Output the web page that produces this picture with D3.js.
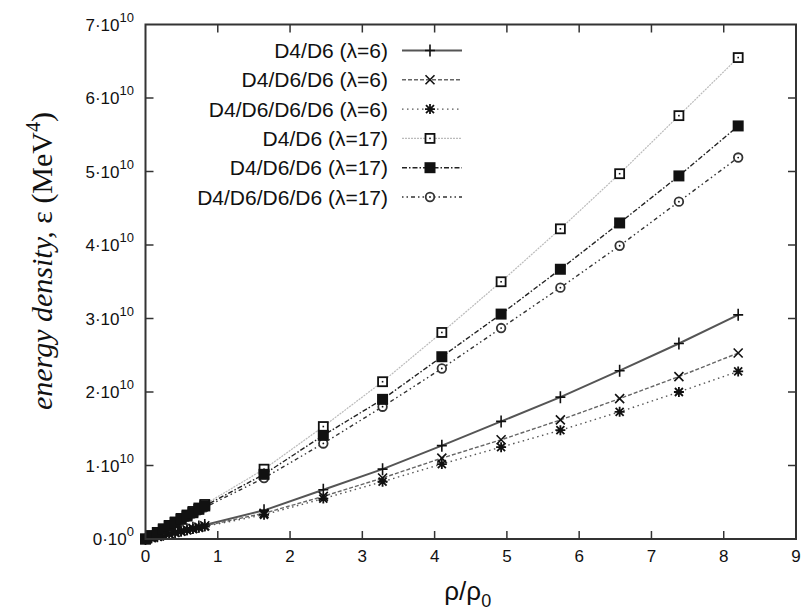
<!DOCTYPE html>
<html>
<head>
<meta charset="utf-8">
<script src="https://cdn.jsdelivr.net/npm/d3@7"></script>
<style>
  body { margin: 0; background: #fff; }
  svg { display: block; }
</style>
</head>
<body>
<div class="plot"></div>
<script>
// rho / rho_0 sample points (dense below 0.82, then coarse)
const rho = [0, 0.082, 0.164, 0.246, 0.328, 0.41, 0.492, 0.574, 0.656, 0.738, 0.82,
  1.64, 2.46, 3.28, 4.1, 4.92, 5.74, 6.56, 7.38, 8.2];

// energy density in units of 1e10 MeV^4
const d4d6_l6 = [0, 0.019, 0.038, 0.057, 0.076, 0.095, 0.114, 0.133, 0.152, 0.171, 0.19,
  0.39, 0.67, 0.95, 1.27, 1.60, 1.93, 2.29, 2.66, 3.05];
const d4d6d6_l6 = [0, 0.018, 0.036, 0.054, 0.072, 0.09, 0.108, 0.126, 0.144, 0.162, 0.18,
  0.35, 0.58, 0.83, 1.10, 1.35, 1.62, 1.91, 2.21, 2.53];
const d4d6d6d6_l6 = [0, 0.017, 0.034, 0.051, 0.068, 0.085, 0.102, 0.119, 0.136, 0.153, 0.17,
  0.33, 0.55, 0.78, 1.02, 1.25, 1.48, 1.73, 2.00, 2.28];
const d4d6_l17 = [0, 0.045, 0.09, 0.138, 0.185, 0.232, 0.28, 0.327, 0.375, 0.422, 0.47,
  0.95, 1.53, 2.14, 2.81, 3.50, 4.22, 4.97, 5.76, 6.55];
const d4d6d6_l17 = [0, 0.044, 0.088, 0.133, 0.178, 0.223, 0.268, 0.313, 0.358, 0.404, 0.45,
  0.88, 1.41, 1.90, 2.48, 3.06, 3.67, 4.30, 4.94, 5.62];
const d4d6d6d6_l17 = [0, 0.043, 0.086, 0.13, 0.173, 0.216, 0.26, 0.303, 0.347, 0.39, 0.43,
  0.83, 1.30, 1.80, 2.32, 2.87, 3.42, 3.99, 4.59, 5.19];

const seriesNames = ["D4/D6 (λ=6)", "D4/D6/D6 (λ=6)", "D4/D6/D6/D6 (λ=6)",
  "D4/D6 (λ=17)", "D4/D6/D6 (λ=17)", "D4/D6/D6/D6 (λ=17)"];
const seriesValues = [d4d6_l6, d4d6d6_l6, d4d6d6d6_l6, d4d6_l17, d4d6d6_l17, d4d6d6d6_l17];

const xTicks = [0, 1, 2, 3, 4, 5, 6, 7, 8, 9];
const yTicks = [0, 1, 2, 3, 4, 5, 6, 7];

const width = 805;
const height = 610;
const svg = d3.select(".plot").append("svg")
  .attr("width", width)
  .attr("height", height);

const x = d3.scaleLinear().domain([0, 9]).range([145.5, 796]);
const y = d3.scaleLinear().domain([0, 7]).range([539, 24.5]);

// line + marker styles per series
const styles = [
  { stroke: "#555", w: 2, dash: null, marker: "plus" },
  { stroke: "#666", w: 1.4, dash: "4,2", marker: "cross" },
  { stroke: "#555", w: 1.4, dash: "1.5,3.5", marker: "star" },
  { stroke: "#bbb", w: 1.2, dash: "2,1", marker: "opensq" },
  { stroke: "#222", w: 1.4, dash: "5,2,1.5,2", marker: "fillsq" },
  { stroke: "#333", w: 1.4, dash: "1.5,3,1.5,3,4,3", marker: "circle" }
];

function drawMarker(g, type) {
  const c = "#111";
  if (type === "plus") {
    g.append("path").attr("d", "M-5,0H5M0,-6V6").attr("stroke", c).attr("stroke-width", 1.6);
  } else if (type === "cross") {
    g.append("path").attr("d", "M-4.5,-4.5L4.5,4.5M-4.5,4.5L4.5,-4.5").attr("stroke", c).attr("stroke-width", 1.6);
  } else if (type === "star") {
    g.append("path").attr("d", "M-5,0H5M0,-5V5M-4,-4L4,4M-4,4L4,-4").attr("stroke", c).attr("stroke-width", 1.8);
  } else if (type === "opensq") {
    g.append("rect").attr("x", -4.5).attr("y", -4.5).attr("width", 9).attr("height", 9)
      .attr("fill", "#fff").attr("stroke", c).attr("stroke-width", 1.8);
    g.append("rect").attr("x", -0.8).attr("y", -0.8).attr("width", 1.6).attr("height", 1.6).attr("fill", c);
  } else if (type === "fillsq") {
    g.append("rect").attr("x", -5.5).attr("y", -5.5).attr("width", 11).attr("height", 11).attr("fill", c);
  } else if (type === "circle") {
    g.append("circle").attr("r", 4.3).attr("fill", "#fff").attr("stroke", "#333").attr("stroke-width", 1.8);
    g.append("circle").attr("r", 0.9).attr("fill", c);
  }
}

const line = d3.line().x((d) => x(d[0])).y((d) => y(d[1]));

seriesValues.forEach((vals, i) => {
  const pts = rho.map((r, j) => [r, vals[j]]);
  const st = styles[i];
  svg.append("path")
    .datum(pts)
    .attr("d", line)
    .attr("fill", "none")
    .attr("stroke", st.stroke)
    .attr("stroke-width", st.w)
    .attr("stroke-dasharray", st.dash);
});

// markers drawn after all lines; filled squares end up on top
[0, 1, 2, 5, 3, 4].forEach((i) => {
  const pts = rho.map((r, j) => [r, seriesValues[i][j]]);
  svg.selectAll("g.m" + i)
    .data(pts)
    .enter()
    .append("g")
    .attr("class", "m" + i)
    .attr("transform", (d) => `translate(${x(d[0])},${y(d[1])})`)
    .each(function () { drawMarker(d3.select(this), styles[i].marker); });
});

// frame
const frameColor = "#333";
svg.append("rect")
  .attr("x", x(0)).attr("y", y(7))
  .attr("width", x(9) - x(0)).attr("height", y(0) - y(7))
  .attr("fill", "none").attr("stroke", frameColor).attr("stroke-width", 2);

// ticks (inward, mirrored)
svg.selectAll("g.xt")
  .data(xTicks.slice(1, -1))
  .enter().append("g")
  .each(function (d) {
    const g = d3.select(this);
    g.append("line").attr("x1", x(d)).attr("x2", x(d)).attr("y1", y(0)).attr("y2", y(0) - 8)
      .attr("stroke", frameColor).attr("stroke-width", 1.5);
    g.append("line").attr("x1", x(d)).attr("x2", x(d)).attr("y1", y(7)).attr("y2", y(7) + 8)
      .attr("stroke", frameColor).attr("stroke-width", 1.5);
  });
svg.selectAll("g.yt")
  .data(yTicks.slice(1, -1))
  .enter().append("g")
  .each(function (d) {
    const g = d3.select(this);
    g.append("line").attr("x1", x(0)).attr("x2", x(0) + 8).attr("y1", y(d)).attr("y2", y(d))
      .attr("stroke", frameColor).attr("stroke-width", 1.5);
    g.append("line").attr("x1", x(9)).attr("x2", x(9) - 8).attr("y1", y(d)).attr("y2", y(d))
      .attr("stroke", frameColor).attr("stroke-width", 1.5);
  });

// tick labels
const fontSans = "'Liberation Sans', Arial, sans-serif";
svg.selectAll("text.xl")
  .data(xTicks)
  .enter().append("text")
  .attr("x", (d) => x(d))
  .attr("y", 562)
  .attr("text-anchor", "middle")
  .attr("font-family", fontSans)
  .attr("font-size", 17)
  .attr("fill", "#111")
  .text((d) => d);

const yl = svg.selectAll("text.yl")
  .data(yTicks)
  .enter().append("text")
  .attr("x", 134)
  .attr("y", (d) => y(d) + 6)
  .attr("text-anchor", "end")
  .attr("font-family", fontSans)
  .attr("font-size", 17)
  .attr("fill", "#111");
yl.append("tspan").text((d) => d + "·10");
yl.append("tspan")
  .attr("dy", -9)
  .attr("font-size", 13)
  .text((d) => (d === 0 ? "0" : "10"));

// axis titles
svg.append("text")
  .attr("x", x(4.5) - 3)
  .attr("y", 600)
  .attr("text-anchor", "middle")
  .attr("font-family", fontSans)
  .attr("font-size", 26)
  .attr("fill", "#111")
  .call((t) => {
    t.append("tspan").text("ρ/ρ");
    t.append("tspan").attr("dy", 7).attr("font-size", 18).text("0");
  });

const yt = svg.append("text")
  .attr("transform", "translate(52,261) rotate(-90)")
  .attr("text-anchor", "middle")
  .attr("font-family", "'Liberation Serif', 'Times New Roman', serif")
  .attr("font-size", 30)
  .attr("fill", "#111");
yt.append("tspan").attr("font-style", "italic").text("energy density, ");
yt.append("tspan").text("ε (MeV");
yt.append("tspan").attr("dy", -12).attr("font-size", 20).text("4");
yt.append("tspan").attr("dy", 12).text(")");

// legend
const legend = svg.append("g");
seriesNames.forEach((name, i) => {
  const ly = 50.5 + i * 29.3;
  const st = styles[i];
  legend.append("text")
    .attr("x", 388)
    .attr("y", ly + 7.5)
    .attr("text-anchor", "end")
    .attr("font-family", fontSans)
    .attr("font-size", 21)
    .attr("fill", "#111")
    .text(name);
  legend.append("line")
    .attr("x1", 402).attr("x2", 462)
    .attr("y1", ly).attr("y2", ly)
    .attr("stroke", st.stroke)
    .attr("stroke-width", st.w)
    .attr("stroke-dasharray", st.dash);
  const g = legend.append("g").attr("transform", `translate(430,${ly})`);
  drawMarker(g, st.marker);
});
</script>
</body>
</html>
